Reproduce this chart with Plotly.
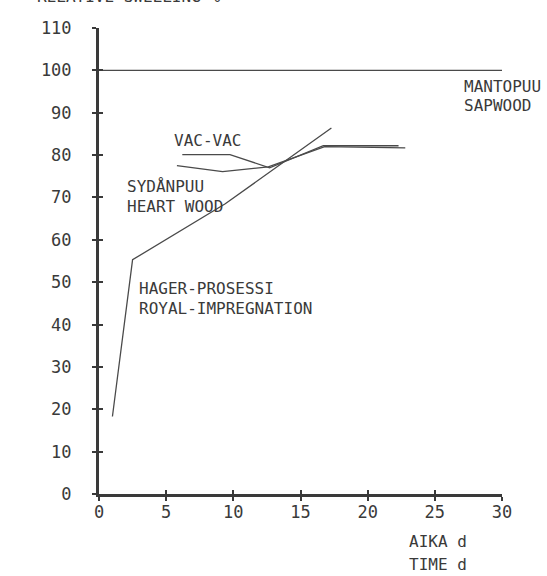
import plotly.graph_objects as go

# Data
sap_x = [0, 30]
sap_y = [100, 100]

vac_x = [6.2, 9.75, 12.7, 16.7, 22.3]
vac_y = [80.1, 80.1, 77.0, 82.2, 82.2]

heart_x = [5.8, 9.2, 12.6, 16.8, 22.8]
heart_y = [77.5, 76.1, 77.2, 82.0, 81.7]

hager_x = [1.0, 2.5, 9.4, 17.3]
hager_y = [18.3, 55.3, 68.5, 86.4]

x_ticks = [0, 5, 10, 15, 20, 25, 30]
y_ticks = [0, 10, 20, 30, 40, 50, 60, 70, 80, 90, 100, 110]

FONT = "DejaVu Sans Mono, monospace"
INK = "#3a3a3a"
LINE = "#4a4a4a"

fig = go.Figure()
for xs, ys in [(sap_x, sap_y), (vac_x, vac_y), (heart_x, heart_y), (hager_x, hager_y)]:
    fig.add_trace(go.Scatter(x=xs, y=ys, mode="lines",
                             line=dict(color=LINE, width=1.3),
                             showlegend=False, hoverinfo="skip"))

labels = [
    ("MANTOPUU", 27.0, 96.3),
    ("SAPWOOD", 27.0, 91.6),
    ("VAC-VAC", 5.4, 83.4),
    ("SYDÅNPUU", 1.9, 72.5),
    ("HEART WOOD", 1.9, 67.8),
    ("HAGER-PROSESSI", 2.8, 48.5),
    ("ROYAL-IMPREGNATION", 2.8, 43.7),
]
for t, x, y in labels:
    fig.add_annotation(x=x, y=y, text=t, showarrow=False, xanchor="left",
                       yanchor="middle", font=dict(family=FONT, size=16, color=INK))

# axis title lines below the x axis
fig.add_annotation(x=22.9, y=-0.103, xref="x", yref="paper", text="AIKA d",
                   showarrow=False, xanchor="left", yanchor="middle",
                   font=dict(family=FONT, size=16, color=INK))
fig.add_annotation(x=22.9, y=-0.175, xref="x", yref="paper", text="TIME d",
                   showarrow=False, xanchor="left", yanchor="bottom",
                   font=dict(family=FONT, size=16, color=INK))

fig.add_annotation(x=-0.16, y=1.042, xref="paper", yref="paper",
                   text="RELATIVE SWELLING %", showarrow=False,
                   xanchor="left", yanchor="bottom",
                   font=dict(family=FONT, size=16, color=INK))

axis_common = dict(showgrid=False, zeroline=False)
fig.update_layout(
    width=547, height=576,
    margin=dict(l=99, r=45, t=28, b=82),
    paper_bgcolor="white", plot_bgcolor="white",
    xaxis=dict(range=[0, 30], tickvals=x_ticks, ticktext=[str(v) for v in x_ticks],
               showline=True, linecolor=INK, linewidth=3,
               ticks="outside", ticklen=4, tickwidth=2, tickcolor=INK,
               ticklabelstandoff=-3,
               tickfont=dict(family=FONT, size=17, color=INK), **axis_common),
    yaxis=dict(range=[0, 110], tickvals=y_ticks, ticktext=[str(v) for v in y_ticks],
               showline=True, linecolor=INK, linewidth=3,
               ticks="outside", ticklen=4, tickwidth=2, tickcolor=INK,
               ticklabelstandoff=17,
               tickfont=dict(family=FONT, size=17, color=INK), **axis_common),
    xaxis2=dict(range=[0, 30], tickvals=x_ticks, overlaying="x", anchor="y",
                side="bottom", showticklabels=False, ticks="inside", ticklen=4,
                tickwidth=2, tickcolor=INK, showline=False, **axis_common),
    yaxis2=dict(range=[0, 110], tickvals=y_ticks, overlaying="y", anchor="x",
                side="left", showticklabels=False, ticks="inside", ticklen=4,
                tickwidth=2, tickcolor=INK, showline=False, **axis_common),
)
fig.add_trace(go.Scatter(x=[None], y=[None], xaxis="x2", yaxis="y2",
                         showlegend=False, hoverinfo="skip"))

fig.write_html("out.html", config={"displayModeBar": False},
               post_script="document.body.style.margin='0';document.body.style.overflow='hidden';")
